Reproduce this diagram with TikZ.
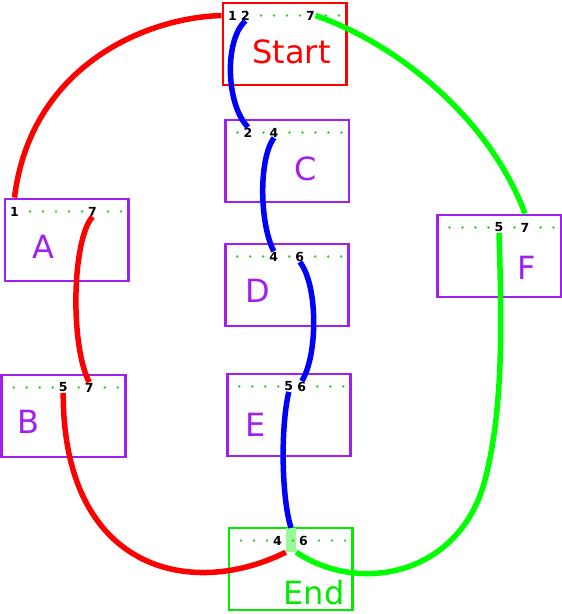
\documentclass[tikz,border=0pt]{standalone}
\usepackage{fontspec}
\setmainfont{DejaVu Sans}
\usepackage{tikz}
\definecolor{boxpurple}{RGB}{160,32,240}
\definecolor{startred}{RGB}{255,0,0}
\definecolor{endgreen}{RGB}{0,235,0}
\definecolor{slotgreen}{RGB}{50,205,50}
\definecolor{portgreen}{RGB}{152,251,152}
\definecolor{wirered}{RGB}{255,0,0}
\definecolor{wireblue}{RGB}{0,0,255}
\definecolor{wiregreen}{RGB}{0,255,0}

\begin{document}
\begin{tikzpicture}[x=1pt, y=-1pt,
    box/.style={draw, line width=2.8pt, minimum width=123.5pt,
                minimum height=82pt, inner sep=0pt},
    lbl/.style={font=\fontsize{32}{38}\selectfont, anchor=base, inner sep=0pt},
    num/.style={font=\bfseries\fontsize{12.5}{14}\selectfont, inner sep=0.5pt},
    dotslot/.style={circle, fill=slotgreen, minimum size=2.8pt, inner sep=0pt,
                    xshift=2.5pt},
    wire/.style={line width=5.5pt}]
  \useasboundingbox (0,0) rectangle (562,614);

  % Boxes and their names
  \foreach \n/\l/\t/\c/\txt/\lx/\ly in {start/223/3/startred/Start/291.5/63,
      c/225.5/120/boxpurple/C/305.7/180, a/5/199/boxpurple/A/43/258.3,
      d/225.3/244/boxpurple/D/258/302.7, f/437.5/215/boxpurple/F/526.5/279.3,
      b/1.7/375/boxpurple/B/28.8/433.3, e/227.3/374/boxpurple/E/255.7/436.7,
      end/229/528/endgreen/End/314/604} {
    \node[box, draw=\c] (\n) at ({\l+61.75},{\t+41}) {};
    \node[lbl, text=\c] (\n-label) at (\lx,\ly) {\txt};
  }

  % Port where the three paths meet
  \node[fill=portgreen, minimum width=10pt, minimum height=24pt, inner sep=0pt]
    (end-port) at (291,540) {};

  % Slot rows (o = empty slot)
  \foreach \n/\l/\t/\s in {start/223/3/{1,2,o,o,o,o,7,o,o},
      c/225.5/120/{o,2,o,4,o,o,o,o,o}, a/5/199/{1,o,o,o,o,o,7,o,o},
      d/225.3/244/{o,o,o,4,o,6,o,o,o}, f/437.5/215/{o,o,o,o,5,o,7,o,o},
      b/1.7/375/{o,o,o,o,5,o,7,o,o}, e/227.3/374/{o,o,o,o,5,6,o,o,o},
      end/229/528/{o,o,o,4,o,6,o,o,o}}
    \foreach \v [count=\k] in \s {
      \if o\v
        \node[dotslot] (\n-\k) at ({\l-3.5+13*\k},{\t+12.5}) {};
      \else
        \node[num] (\n-\k) at ({\l-3.5+13*\k},{\t+12.5}) {\v};
      \fi
    }

  % Red path
  \draw[wire, wirered] (start.west |- start-1) .. controls (140,18) and (30,70)
    .. (a-1 |- a.north);
  \draw[wire, wirered] (a-7.south) .. controls (72,240) and (70,345) .. (b-7.north);
  \draw[wire, wirered] (b-5.south) .. controls (63,570) and (190,600)
    .. (end-port.south west);

  % Blue path
  \draw[wire, wireblue] (start-2.south) .. controls (224,40) and (226,105) .. (c-2.north);
  \draw[wire, wireblue] (c-4.south) .. controls (258,160) and (260,225) .. (d-4.north);
  \draw[wire, wireblue] (d-6.south) .. controls (318,285) and (318,355) .. (e-6.north);
  \draw[wire, wireblue] (e-5.south) .. controls (280,430) and (282,500) .. (end-port.north);

  % Green path
  \draw[wire, wiregreen] (start-7.east) .. controls (400,45) and (490,120)
    .. (f-7 |- f.north);
  \draw[wire, wiregreen] (f-5.south) .. controls (502,330) and (503,410) .. (485,480)
    .. controls (460,575) and (360,595) .. (end-port.south east);
\end{tikzpicture}
\end{document}
